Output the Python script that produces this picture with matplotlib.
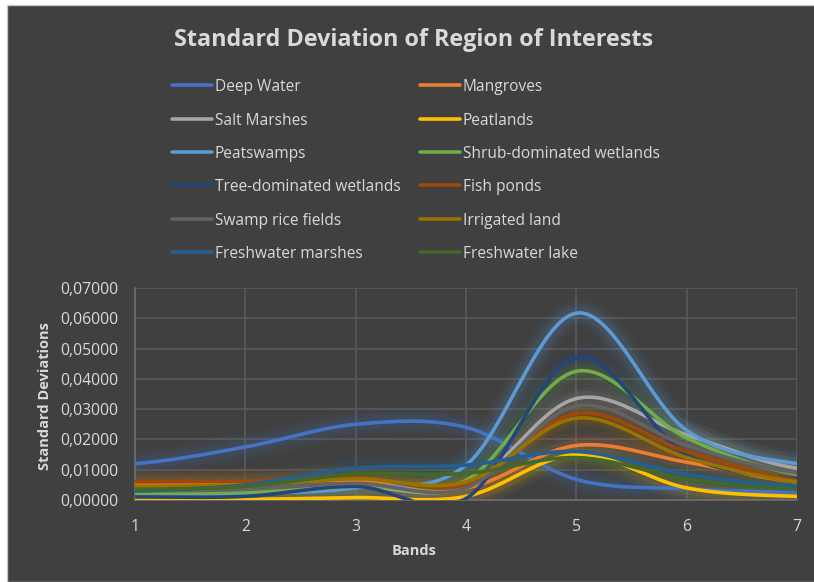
import numpy as np
import matplotlib
matplotlib.use("Agg")
import matplotlib.pyplot as plt
from matplotlib.lines import Line2D
from matplotlib.ticker import FuncFormatter

bands = [1, 2, 3, 4, 5, 6, 7]

deep_water = [0.0120, 0.0175, 0.0250, 0.0240, 0.0068, 0.0037, 0.0025]
mangroves = [0.0050, 0.0055, 0.0065, 0.0040, 0.0180, 0.0125, 0.0060]
salt_marshes = [0.0030, 0.0030, 0.0045, 0.0045, 0.0335, 0.0215, 0.0105]
peatlands = [0.0002, 0.0002, 0.0008, 0.0012, 0.0150, 0.0040, 0.0012]
peatswamps = [0.0020, 0.0022, 0.0040, 0.0115, 0.0617, 0.0230, 0.0120]
shrub = [0.0023, 0.0025, 0.0045, 0.0065, 0.0425, 0.0205, 0.0085]
tree = [0.0010, 0.0012, 0.0045, 0.0005, 0.0470, 0.0150, 0.0070]
fish_ponds = [0.0060, 0.0062, 0.0075, 0.0050, 0.0285, 0.0160, 0.0065]
swamp_rice = [0.0030, 0.0035, 0.0055, 0.0040, 0.0310, 0.0180, 0.0090]
irrigated = [0.0045, 0.0050, 0.0070, 0.0060, 0.0270, 0.0140, 0.0060]
fw_marshes = [0.0030, 0.0050, 0.0105, 0.0115, 0.0160, 0.0085, 0.0045]
fw_lake = [0.0035, 0.0045, 0.0085, 0.0088, 0.0140, 0.0070, 0.0035]

names = ["Deep Water", "Mangroves", "Salt Marshes", "Peatlands", "Peatswamps",
         "Shrub-dominated wetlands", "Tree-dominated wetlands", "Fish ponds",
         "Swamp rice fields", "Irrigated land", "Freshwater marshes", "Freshwater lake"]
series = [deep_water, mangroves, salt_marshes, peatlands, peatswamps, shrub, tree,
          fish_ponds, swamp_rice, irrigated, fw_marshes, fw_lake]
colors = ["#4472C4", "#ED7D31", "#A5A5A5", "#FFC000", "#5B9BD5", "#70AD47",
          "#264478", "#9E480E", "#636363", "#997300", "#255E91", "#43682B"]

BG = "#404040"
TXT = "#D9D9D9"
FONT = "Open Sans"


def smooth(x, y, n=40):
    x = np.asarray(x, float)
    y = np.asarray(y, float)
    m = np.zeros_like(y)
    m[1:-1] = (y[2:] - y[:-2]) / (x[2:] - x[:-2])
    m[0] = (y[1] - y[0]) / (x[1] - x[0]) * 0.5
    m[-1] = (y[-1] - y[-2]) / (x[-1] - x[-2]) * 0.5
    xs, ys = [], []
    for i in range(len(x) - 1):
        t = np.linspace(0, 1, n, endpoint=False)
        h = x[i + 1] - x[i]
        h00 = 2 * t**3 - 3 * t**2 + 1
        h10 = t**3 - 2 * t**2 + t
        h01 = -2 * t**3 + 3 * t**2
        h11 = t**3 - t**2
        xs.append(x[i] + t * h)
        ys.append(h00 * y[i] + h10 * h * m[i] + h01 * y[i + 1] + h11 * h * m[i + 1])
    xs.append([x[-1]])
    ys.append([y[-1]])
    return np.concatenate(xs), np.concatenate(ys)


fig = plt.figure(figsize=(8.14, 5.82), dpi=100, facecolor="white")
fig.patches.append(plt.Rectangle((7 / 814, 0), 1, 1 - 5 / 582, transform=fig.transFigure,
                                 facecolor=BG, edgecolor="#C8C8C8", linewidth=1.0, zorder=-10))

ax = fig.add_axes([135 / 814, 82 / 582, 662 / 814, 212 / 582])
ax.set_facecolor(BG)
ax.set_xlim(1, 7)
ax.set_ylim(0, 0.07)

for s, c in zip(series, colors):
    xs, ys = smooth(bands, s)
    for lw, a in [(20, 0.05), (14, 0.07), (9, 0.09)]:
        ax.plot(xs, ys, color=c, lw=lw, alpha=a, solid_capstyle="round", zorder=2)
for s, c in zip(series, colors):
    xs, ys = smooth(bands, s)
    ax.plot(xs, ys, color=c, lw=2.6, solid_capstyle="round", zorder=3)

ax.set_xticks(bands)
ax.set_yticks(np.arange(0, 0.0701, 0.01))
ax.yaxis.set_major_formatter(FuncFormatter(lambda v, p: f"{v:.5f}".replace(".", ",")))
ax.grid(True, color="#5A5A5A", lw=1.2, zorder=0)
ax.set_axisbelow(True)
for sp in ["top", "right"]:
    ax.spines[sp].set_visible(False)
ax.spines["left"].set_color("#6E6E6E")
ax.spines["bottom"].set_color("#6E6E6E")
ax.spines["left"].set_linewidth(1.2)
ax.spines["bottom"].set_linewidth(1.2)
ax.tick_params(length=0, colors=TXT, labelsize=11.3)
ax.tick_params(axis="y", pad=12)
ax.tick_params(axis="x", pad=14)
for lab in ax.get_xticklabels() + ax.get_yticklabels():
    lab.set_fontfamily(FONT)

fig.text(414 / 814, 1 - 40 / 582, "Standard Deviation of Region of Interests",
         ha="center", va="center", color=TXT, fontsize=16.8, fontweight="bold", family=FONT)
fig.text(45 / 814, 1 - 396 / 582, "Standard Deviations", rotation=90,
         ha="center", va="center", color=TXT, fontsize=10.5, fontweight="bold", family=FONT)
fig.text(414 / 814, 1 - 551 / 582, "Bands",
         ha="center", va="center", color=TXT, fontsize=10.5, fontweight="bold", family=FONT)

col_x = [172, 420]
row_y = [85, 119, 152, 185, 219, 252]
for i, (nm, c) in enumerate(zip(names, colors)):
    r, col = divmod(i, 2)
    x0 = col_x[col]
    y0 = 1 - row_y[r] / 582
    fig.add_artist(Line2D([x0 / 814, (x0 + 40) / 814], [y0, y0], transform=fig.transFigure,
                          color=c, lw=2.6, solid_capstyle="round"))
    fig.text((x0 + 43) / 814, y0 - 2 / 582, nm, ha="left", va="center", color=TXT,
             fontsize=11.2, family=FONT)

fig.savefig("out.png", dpi=100, facecolor=fig.get_facecolor())
